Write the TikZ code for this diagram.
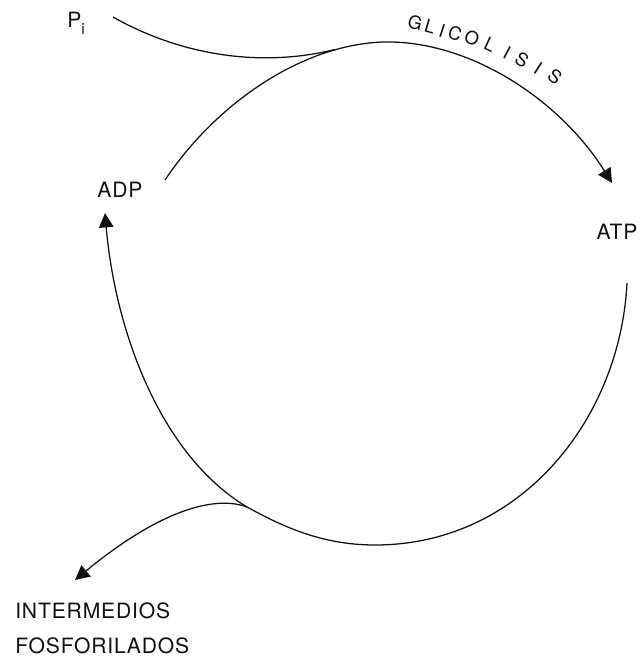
\documentclass[tikz,border=0pt]{standalone}
\usepackage{fontspec}
\setmainfont{TeX Gyre Heros}
\newfontfamily\lblfont[LetterSpace=4]{TeX Gyre Heros}
\usetikzlibrary{arrows.meta,positioning}
\definecolor{ink}{HTML}{111111}
\tikzset{
  lbl/.style={inner sep=0pt,text=ink,font=\lblfont\fontsize{15}{25}\selectfont},
  glyph/.style={inner sep=0pt,text=ink,font=\lblfont\fontsize{13}{13}\selectfont},
  flow/.style={-{Triangle[length=3.6mm,width=3.6mm]},line width=0.9pt,draw=ink},
  plain/.style={line width=0.9pt,draw=ink},
}

\begin{document}
\begin{tikzpicture}[x=0.025cm,y=-0.025cm]
  \useasboundingbox (0,0) rectangle (643,656);
  % labels
  \node[lbl,anchor=base west] (pi) at (67,28) {P\raisebox{-0.55ex}{\fontsize{11}{11}\selectfont i}};
  \node[lbl] (adp) at (120,190) {ADP};
  \node[lbl] (atp) at (617,232) {ATP};
  \node[lbl,anchor=north west,align=left] (inter) at (15,602) {INTERMEDIOS\\FOSFORILADOS};
  % free ends of the curves
  \coordinate (pi0) at (113,17);
  \coordinate (join) at (335,49.5);
  \coordinate (adp0) at (165,180);
  \coordinate (top) at (383,42);
  \coordinate (atp0) at (612,183);
  \coordinate (atp1) at (627,283);
  \coordinate (bot) at (375,545);
  \coordinate (fork) at (247,507);
  \coordinate (adp1) at (105,213);
  \coordinate (inter0) at (75,580);
  % curves
  \draw[plain] (pi0) .. controls (180,55) and (260,68) .. (join);
  \draw[flow] (adp0) .. controls (215,105) and (300,45) .. (top)
    .. controls (470,40) and (560,100) .. (atp0);
  \draw[flow] (atp1) .. controls (620,420) and (520,545) .. (bot)
    .. controls (320,545) and (280,525) .. (fork)
    .. controls (160,455) and (115,330) .. (adp1);
  \draw[flow] (fork) .. controls (215,495) and (160,510) .. (inter0);
  % arc text
  \foreach \l/\x/\y/\r [count=\i] in {G/415/23/-13.8, L/430/27/-16.1, I/442/31/-17.9,
      C/455/33/-19.8, O/472/38/-22.3, L/490/45/-25.1, I/507/53/-27.8,
      S/522/60/-30.2, I/538/68/-32.7, S/555/77/-35.5}
    \node[glyph,rotate=\r] (gl\i) at (\x,\y) {\l};
\end{tikzpicture}
\end{document}
